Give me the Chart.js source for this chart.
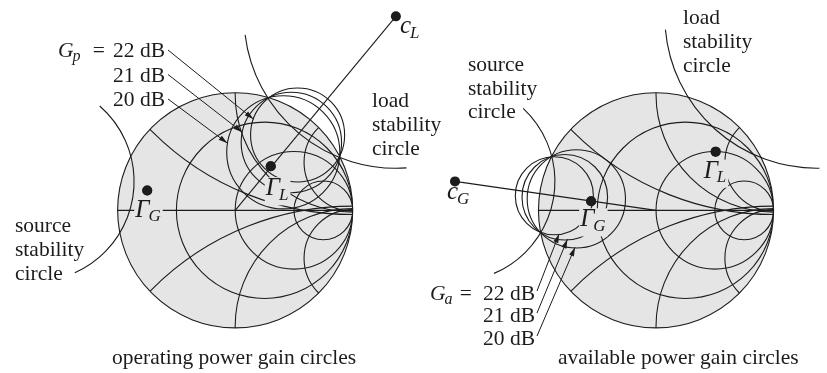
<!DOCTYPE html>
<html>
<head>
<meta charset="utf-8">
<script src="https://cdn.jsdelivr.net/npm/chart.js@4.4.0/dist/chart.umd.min.js"></script>
<style>
  body { margin: 0; background: #fff; }
  #wrap { width: 827px; height: 373px; position: relative; }
</style>
</head>
<body>
<div id="wrap"><canvas id="gainChart"></canvas></div>
<script>
// Smith chart grid: constant resistance circles and constant reactance arcs
const resistanceCircles = [1 / 3, 1, 3];
const reactanceArcs = [0.414, 1, 2.414];

// Left chart: operating power gain circles (reflection coefficient plane)
const gpLabels = ['22 dB', '21 dB', '20 dB'];
const gpCenters = [[0.531, 0.651], [0.478, 0.586], [0.409, 0.501]];
const gpRadii = [0.400, 0.427, 0.481];
const gammaLOperating = [0.3025, 0.381];
const gammaGOperating = [-0.748, 0.171];

// Right chart: available power gain circles
const gaLabels = ['22 dB', '21 dB', '20 dB'];
const gaCenters = [[-0.865, 0.126], [-0.776, 0.113], [-0.678, 0.099]];
const gaRadii = [0.332, 0.364, 0.418];
const gammaLAvailable = [0.507, 0.507];
const gammaGAvailable = [-0.552, 0.078];

// Stability circles (same transistor on both charts)
const loadStabCenter = [1.367, 1.675];
const loadStabRadius = 1.292;
const sourceStabCenter = [-1.71, 0.25];
const sourceStabRadius = 0.85;

// layout: where each chart's origin sits on the shared axis
const unitPx = 119;
const originPx = [[233, 211], [659, 211]];
const chartOffsets = originPx.map(o => (o[0] - originPx[0][0]) / unitPx);

const ink = '#1c1c1c';
const diskGray = '#e5e5e5';
const serif = '"Liberation Serif", "DejaVu Serif", serif';

const pt = (ci, g) => ({ x: g[0] + chartOffsets[ci], y: g[1] });

function toPx(chart, ci, gx, gy) {
  return [chart.scales.x.getPixelForValue(gx + chartOffsets[ci]), chart.scales.y.getPixelForValue(gy)];
}
function lenPx(chart, r) {
  return chart.scales.x.getPixelForValue(r) - chart.scales.x.getPixelForValue(0);
}

function drawSmith(ctx, chart, ci) {
  const [cx, cy] = toPx(chart, ci, 0, 0);
  const R = lenPx(chart, 1);
  ctx.save();
  ctx.beginPath();
  ctx.arc(cx, cy, R, 0, 2 * Math.PI);
  ctx.fillStyle = diskGray;
  ctx.fill();
  ctx.clip();
  ctx.strokeStyle = ink;
  ctx.lineWidth = 1.1;
  resistanceCircles.forEach(r => {
    const c = toPx(chart, ci, r / (1 + r), 0);
    ctx.beginPath();
    ctx.arc(c[0], c[1], lenPx(chart, 1 / (1 + r)), 0, 2 * Math.PI);
    ctx.stroke();
  });
  reactanceArcs.forEach(x => {
    [x, -x].forEach(xx => {
      const c = toPx(chart, ci, 1, 1 / xx);
      ctx.beginPath();
      ctx.arc(c[0], c[1], lenPx(chart, Math.abs(1 / xx)), 0, 2 * Math.PI);
      ctx.stroke();
    });
  });
  ctx.beginPath();
  ctx.moveTo(cx - R, cy);
  ctx.lineTo(cx + R, cy);
  ctx.stroke();
  ctx.restore();
  ctx.save();
  ctx.strokeStyle = ink;
  ctx.lineWidth = 1.1;
  ctx.beginPath();
  ctx.arc(cx, cy, R, 0, 2 * Math.PI);
  ctx.stroke();
  ctx.restore();
}

function drawCircle(ctx, chart, ci, c, r, a0, a1) {
  const p = toPx(chart, ci, c[0], c[1]);
  ctx.beginPath();
  if (a0 === undefined) ctx.arc(p[0], p[1], lenPx(chart, r), 0, 2 * Math.PI);
  else ctx.arc(p[0], p[1], lenPx(chart, r), -a0 * Math.PI / 180, -a1 * Math.PI / 180, true);
  ctx.stroke();
}

function onCircle(chart, ci, c, r, deg) {
  const a = deg * Math.PI / 180;
  return toPx(chart, ci, c[0] + r * Math.cos(a), c[1] + r * Math.sin(a));
}

function arrow(ctx, x0, y0, x1, y1) {
  ctx.beginPath();
  ctx.moveTo(x0, y0);
  ctx.lineTo(x1, y1);
  ctx.stroke();
  const a = Math.atan2(y1 - y0, x1 - x0), L = 9, W = 2.6;
  ctx.beginPath();
  ctx.moveTo(x1, y1);
  ctx.lineTo(x1 - L * Math.cos(a) + W * Math.sin(a), y1 - L * Math.sin(a) - W * Math.cos(a));
  ctx.lineTo(x1 - L * Math.cos(a) - W * Math.sin(a), y1 - L * Math.sin(a) + W * Math.cos(a));
  ctx.closePath();
  ctx.fill();
}

function subLabel(ctx, x, y, main, sub, size, subSize, knock) {
  ctx.font = 'italic ' + size + 'px ' + serif;
  const w1 = ctx.measureText(main).width;
  ctx.font = 'italic ' + subSize + 'px ' + serif;
  const w2 = ctx.measureText(sub).width;
  if (knock) {
    ctx.fillStyle = diskGray;
    ctx.fillRect(x - 1, y - size * 0.72, w1 + w2 + 2, size * 0.72 + subSize * 0.3 + 5);
  }
  ctx.fillStyle = ink;
  ctx.font = 'italic ' + size + 'px ' + serif;
  ctx.fillText(main, x, y);
  ctx.font = 'italic ' + subSize + 'px ' + serif;
  ctx.fillText(sub, x + w1 - 1, y + subSize * 0.28);
}

function textLines(ctx, x, y, lines, step) {
  ctx.font = '21.5px ' + serif;
  ctx.fillStyle = ink;
  lines.forEach((s, i) => ctx.fillText(s, x, y + i * step));
}

const smithPlugin = {
  id: 'smithPlugin',
  beforeDatasetsDraw(chart) {
    const ctx = chart.ctx;
    drawSmith(ctx, chart, 0);
    drawSmith(ctx, chart, 1);
    ctx.save();
    ctx.strokeStyle = ink;
    ctx.lineWidth = 1.1;
    // left: gain circles and stability arcs
    gpCenters.forEach((c, i) => drawCircle(ctx, chart, 0, c, gpRadii[i]));
    drawCircle(ctx, chart, 0, loadStabCenter, loadStabRadius, 187, 274);
    drawCircle(ctx, chart, 0, sourceStabCenter, sourceStabRadius, -66, 49);
    // right
    gaCenters.forEach((c, i) => drawCircle(ctx, chart, 1, c, gaRadii[i]));
    drawCircle(ctx, chart, 1, loadStabCenter, loadStabRadius, 185, 271);
    drawCircle(ctx, chart, 1, sourceStabCenter, sourceStabRadius, -67, 47);
    ctx.restore();
  },
  afterDatasetsDraw(chart) {
    const ctx = chart.ctx;
    ctx.save();
    ctx.strokeStyle = ink;
    ctx.fillStyle = ink;
    ctx.lineWidth = 1;
    ctx.textBaseline = 'alphabetic';

    // left gain labels
    const gpBase = [57, 81.5, 106];
    const gpTipAngles = [160, 168, 170.5];
    ctx.font = '21.5px ' + serif;
    ctx.textAlign = 'right';
    gpLabels.forEach((s, i) => ctx.fillText(s, 165, gpBase[i]));
    ctx.fillText('=', 105, gpBase[0]);
    ctx.textAlign = 'left';
    subLabel(ctx, 58, gpBase[0], 'G', 'p', 21.5, 16, false);
    gpLabels.forEach((s, i) => {
      const tip = onCircle(chart, 0, gpCenters[i], gpRadii[i], gpTipAngles[i]);
      arrow(ctx, 168, gpBase[i] - 7, tip[0], tip[1]);
    });

    // right gain labels
    const gaBase = [300, 322, 345];
    const gaTipAngles = [-83, -86.5, -91.5];
    ctx.font = '21.5px ' + serif;
    ctx.textAlign = 'right';
    gaLabels.forEach((s, i) => ctx.fillText(s, 535, gaBase[i]));
    ctx.fillText('=', 472, gaBase[0]);
    ctx.textAlign = 'left';
    subLabel(ctx, 430, gaBase[0], 'G', 'a', 21.5, 16, false);
    gaLabels.forEach((s, i) => {
      const tip = onCircle(chart, 1, gaCenters[i], gaRadii[i], gaTipAngles[i]);
      arrow(ctx, 537, gaBase[i] - 9, tip[0], tip[1]);
    });

    // point labels
    let p = toPx(chart, 0, loadStabCenter[0], loadStabCenter[1]);
    subLabel(ctx, p[0] + 4, p[1] + 17, 'c', 'L', 25, 17, false);
    p = toPx(chart, 0, gammaLOperating[0], gammaLOperating[1]);
    subLabel(ctx, p[0] - 5, p[1] + 29, 'Γ', 'L', 25, 17, true);
    p = toPx(chart, 0, gammaGOperating[0], gammaGOperating[1]);
    subLabel(ctx, p[0] - 12, p[1] + 26, 'Γ', 'G', 25, 17, true);
    p = toPx(chart, 1, sourceStabCenter[0], sourceStabCenter[1]);
    subLabel(ctx, p[0] - 8, p[1] + 18, 'c', 'G', 25, 17, false);
    p = toPx(chart, 1, gammaGAvailable[0], gammaGAvailable[1]);
    subLabel(ctx, p[0] - 11, p[1] + 25, 'Γ', 'G', 25, 17, true);
    p = toPx(chart, 1, gammaLAvailable[0], gammaLAvailable[1]);
    subLabel(ctx, p[0] - 12, p[1] + 26, 'Γ', 'L', 25, 17, true);

    // redraw dots over knockouts
    [gammaLOperating, gammaGOperating].forEach(g => {
      const q = toPx(chart, 0, g[0], g[1]);
      ctx.beginPath(); ctx.arc(q[0], q[1], 5, 0, 2 * Math.PI); ctx.fill();
    });
    [gammaLAvailable, gammaGAvailable].forEach(g => {
      const q = toPx(chart, 1, g[0], g[1]);
      ctx.beginPath(); ctx.arc(q[0], q[1], 5, 0, 2 * Math.PI); ctx.fill();
    });

    // stability circle captions
    textLines(ctx, 372, 107, ['load', 'stability', 'circle'], 24);
    textLines(ctx, 15, 232, ['source', 'stability', 'circle'], 24);
    textLines(ctx, 683, 23.5, ['load', 'stability', 'circle'], 24);
    textLines(ctx, 468, 71, ['source', 'stability', 'circle'], 23.7);

    // chart titles
    ctx.font = '21.5px ' + serif;
    ctx.fillText('operating power gain circles', 112, 364);
    ctx.fillText('available power gain circles', 558, 364);
    ctx.restore();
  }
};

const ctx = document.getElementById('gainChart').getContext('2d');
const gainChart = new Chart(ctx, {
  type: 'scatter',
  data: {
    datasets: [
      {
        label: 'points',
        data: [
          pt(0, loadStabCenter), pt(0, gammaLOperating), pt(0, gammaGOperating),
          pt(1, sourceStabCenter), pt(1, gammaLAvailable), pt(1, gammaGAvailable)
        ],
        pointRadius: 5,
        pointBackgroundColor: ink,
        pointBorderWidth: 0,
        order: 0
      },
      {
        label: 'load center line',
        data: [pt(0, loadStabCenter), pt(0, [0, 0])],
        showLine: true,
        borderColor: ink,
        borderWidth: 1.1,
        pointRadius: 0,
        order: 1
      },
      {
        label: 'source center line',
        data: [pt(1, sourceStabCenter), pt(1, [0, 0])],
        showLine: true,
        borderColor: ink,
        borderWidth: 1.1,
        pointRadius: 0,
        order: 1
      }
    ]
  },
  options: {
    responsive: true,
    maintainAspectRatio: false,
    animation: false,
    layout: { padding: 0 },
    plugins: { legend: { display: false }, tooltip: { enabled: false } },
    scales: {
      x: { type: 'linear', display: false, min: -originPx[0][0] / unitPx, max: (827 - originPx[0][0]) / unitPx },
      y: { type: 'linear', display: false, min: -(373 - originPx[0][1]) / unitPx, max: originPx[0][1] / unitPx }
    }
  },
  plugins: [smithPlugin]
});
</script>
</body>
</html>
